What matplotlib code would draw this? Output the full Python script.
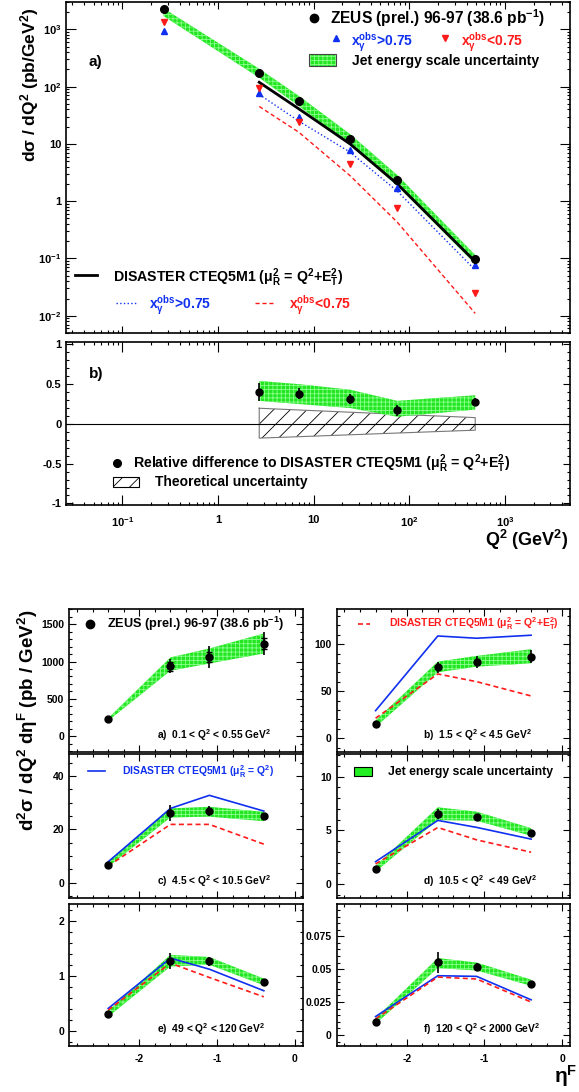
import numpy as np
import matplotlib
matplotlib.use('Agg')
import matplotlib.pyplot as plt
from matplotlib.ticker import LogLocator, FuncFormatter, NullFormatter, MultipleLocator
from matplotlib.patches import Rectangle
from matplotlib.lines import Line2D

plt.rcParams['font.family'] = ['Liberation Sans', 'DejaVu Sans']
plt.rcParams['font.weight'] = 'bold'
plt.rcParams['mathtext.fontset'] = 'custom'
plt.rcParams['mathtext.rm'] = 'Liberation Sans:bold'
plt.rcParams['mathtext.it'] = 'Liberation Sans:bold'
plt.rcParams['mathtext.bf'] = 'Liberation Sans:bold'
plt.rcParams['mathtext.default'] = 'rm'
plt.rcParams['axes.unicode_minus'] = False
plt.rcParams['hatch.linewidth'] = 0.6

# ---- top figure: d sigma / dQ2 ----
q2 = [0.27, 2.7, 7.0, 24.0, 75.0, 490.0]
zeus_xs = [2250, 170, 55, 12.2, 2.3, 0.098]
zeus_jes_hi = [2320, 205, 69, 14.9, 2.86, 0.115]
zeus_jes_lo = [1700, 143, 46, 9.6, 1.86, 0.080]
xg_hi_pts = [950, 78, 29.6, 7.7, 1.7, 0.077]     # x_gamma^obs > 0.75
xg_lo_pts = [1320, 95, 24, 4.5, 0.75, 0.025]     # x_gamma^obs < 0.75
q2_nlo = [2.7, 7.0, 24.0, 75.0, 490.0]
dis_all = [119, 41, 10, 2.0, 0.088]
dis_xg_hi = [73, 25, 7.2, 1.5, 0.063]
dis_xg_lo = [45, 16, 2.8, 0.43, 0.011]

# relative difference panel
rel = [0.40, 0.38, 0.31, 0.17, 0.27]
rel_err = [0.11, 0.07, 0.06, 0.07, 0.05]
rel_jes_hi = [0.54, 0.50, 0.43, 0.29, 0.36]
rel_jes_lo = [0.29, 0.25, 0.20, 0.09, 0.18]
theo_hi = [0.197, 0.175, 0.147, 0.121, 0.079]
theo_lo = [-0.179, -0.161, -0.137, -0.115, -0.079]

# ---- bottom figure: d2 sigma / dQ2 d eta_F ----
eta = [-2.4, -1.6, -1.1, -0.4]
bins = ['a)  0.1 < Q$^2$ < 0.55 GeV$^2$', 'b)  1.5 < Q$^2$ < 4.5 GeV$^2$',
        'c)  4.5 < Q$^2$ < 10.5 GeV$^2$', 'd)  10.5 < Q$^2$  < 49 GeV$^2$',
        'e)  49 < Q$^2$ < 120 GeV$^2$', 'f)  120 < Q$^2$ < 2000 GeV$^2$']
xs = [[224, 938, 1063, 1242],
      [15.2, 75.5, 81.2, 86.8],
      [6.6, 26.3, 26.9, 25.0],
      [1.40, 6.54, 6.2, 4.77],
      [0.31, 1.27, 1.26, 0.88],
      [0.0099, 0.0553, 0.0518, 0.0389]]
xs_err = [[15, 90, 150, 160],
          [1.5, 6, 6, 7],
          [0.5, 3, 2, 1.2],
          [0.1, 0.45, 0.3, 0.25],
          [0.03, 0.15, 0.08, 0.05],
          [0.001, 0.008, 0.003, 0.002]]
xs_stat_a = [10, 60, 70, 80]
jes_hi = [[240, 1055, 1175, 1376],
          [19, 81.5, 87.6, 94.7],
          [7.9, 27.9, 28.5, 26.6],
          [1.68, 7.14, 6.73, 5.2],
          [0.37, 1.38, 1.34, 0.95],
          [0.0127, 0.0584, 0.055, 0.042]]
jes_lo = [[205, 876, 974, 1108],
          [12, 70.2, 76.2, 79.8],
          [6.0, 24.5, 24.8, 23.1],
          [1.15, 5.95, 5.89, 4.49],
          [0.26, 1.17, 1.20, 0.83],
          [0.0084, 0.0508, 0.049, 0.0373]]
nlo_q2 = [None,
          [29.4, 108.8, 106.4, 109.6],
          [7.9, 27.9, 32.8, 26.9],
          [2.08, 5.92, 5.27, 4.18],
          [0.41, 1.32, 1.12, 0.73],
          [0.0140, 0.045, 0.0445, 0.0267]]
nlo_q2et2 = [None,
             [21.3, 68.4, 60.2, 45],
             [6.3, 21.9, 21.9, 14.5],
             [1.87, 5.26, 4.11, 2.96],
             [0.38, 1.23, 0.97, 0.62],
             [0.0122, 0.044, 0.0425, 0.025]]
ylims = [(-214, 1705), (-14.6, 137.5), (-5.7, 48.3), (-1.3, 12.1), (-0.27, 2.3), (-0.0084, 0.0995)]
ymajor = [500, 50, 20, 5, 1, 0.025]
yminor = [100, 10, 5, 1, 0.2, 0.005]

GREEN = '#22e622'
GREEN_H = '#8cff8c'
BLUE = '#1030f0'
RED = '#ff1a1a'

W, H = 579, 1092
fig = plt.figure(figsize=(W / 100, H / 100), dpi=100)


def add_ax(l, t, r, b):
    return fig.add_axes([l / W, 1 - b / H, (r - l) / W, (b - t) / H])


def style(ax, size=7.5):
    ax.tick_params(which='both', direction='in', top=True, right=True, labelsize=size, width=0.8)
    ax.tick_params(which='major', length=5)
    ax.tick_params(which='minor', length=2.5)
    for s in ax.spines.values():
        s.set_linewidth(1.2)


def log_fmt(v, pos):
    e = int(round(np.log10(v)))
    if e == 0:
        return '1'
    if e == 1:
        return '10'
    return r'$10^{%d}$' % e


def green_band(ax, x, lo, hi):
    ax.fill_between(x, lo, hi, facecolor=GREEN, edgecolor=GREEN_H, hatch='++++', linewidth=0, zorder=1)


# ---------------- panel a (top) ----------------
axa = add_ax(66.4, 2, 570, 333)
axa.set_xscale('log')
axa.set_yscale('log')
axa.set_xlim(0.026, 4800)
axa.set_ylim(0.005, 3000)
green_band(axa, q2, zeus_jes_lo, zeus_jes_hi)
axa.plot(q2_nlo, dis_all, color='k', lw=2, zorder=3)
axa.plot(q2_nlo, dis_xg_hi, color=BLUE, lw=1, ls=':', zorder=3)
axa.plot(q2_nlo, dis_xg_lo, color=RED, lw=1, ls=(0, (3, 2)), zorder=3)
axa.plot(q2, xg_hi_pts, ls='none', marker='^', color=BLUE, ms=5, zorder=4)
axa.plot(q2, xg_lo_pts, ls='none', marker='v', color=RED, ms=5, zorder=4)
axa.plot(q2, zeus_xs, ls='none', marker='o', color='k', ms=5.5, zorder=5)
style(axa, 8)
for axis in (axa.xaxis, axa.yaxis):
    axis.set_major_locator(LogLocator(base=10))
    axis.set_minor_locator(LogLocator(base=10, subs=np.arange(2, 10)))
    axis.set_major_formatter(FuncFormatter(log_fmt))
    axis.set_minor_formatter(NullFormatter())
axa.tick_params(labelbottom=False)
axa.tick_params(which='major', axis='y', length=7)

T = axa.transAxes
axa.plot([0.491], [0.952], marker='o', color='k', ms=6, transform=T, clip_on=False)
axa.text(0.524, 0.934, 'ZEUS (prel.) 96-97 (38.6 pb$^{-1}$)', fontsize=11.2, transform=T, va='baseline')
axa.plot([0.535], [0.890], marker='^', color=BLUE, ms=5, transform=T)
axa.text(0.566, 0.869, r'x$^{obs}_{\gamma}$>0.75', color=BLUE, fontsize=10, transform=T, va='baseline')
axa.plot([0.752], [0.890], marker='v', color=RED, ms=5, transform=T)
axa.text(0.784, 0.869, r'x$^{obs}_{\gamma}$<0.75', color=RED, fontsize=10, transform=T, va='baseline')
axa.add_patch(Rectangle((0.482, 0.808), 0.053, 0.035, transform=T, facecolor=GREEN,
                        edgecolor=GREEN_H, hatch='++++', lw=0))
axa.add_patch(Rectangle((0.482, 0.808), 0.053, 0.035, transform=T, fill=False, edgecolor='#444444', lw=0.8))
axa.text(0.568, 0.810, 'Jet energy scale uncertainty', fontsize=10, transform=T, va='baseline')
axa.text(0.044, 0.807, 'a)', fontsize=11, transform=T, va='baseline')
axa.add_line(Line2D([0.018, 0.060], [0.174, 0.174], color='k', lw=2, transform=T))
axa.text(0.092, 0.155, r'DISASTER CTEQ5M1 ($\mu^2_R$ = Q$^2$+E$^2_T$)', fontsize=10.2, transform=T, va='baseline')
axa.add_line(Line2D([0.099, 0.139], [0.0915, 0.0915], color=BLUE, lw=1, ls=':', transform=T))
axa.text(0.165, 0.0746, r'x$^{obs}_{\gamma}$>0.75', color=BLUE, fontsize=10, transform=T, va='baseline')
axa.add_line(Line2D([0.374, 0.410], [0.0915, 0.0915], color=RED, lw=1, ls=(0, (3, 2)), transform=T))
axa.text(0.443, 0.0746, r'x$^{obs}_{\gamma}$<0.75', color=RED, fontsize=10, transform=T, va='baseline')

# ---------------- panel b (top) ----------------
axb = add_ax(66.4, 342, 570, 505)
axb.set_xscale('log')
axb.set_xlim(0.026, 4800)
axb.set_ylim(-1.02, 1.03)
axb.fill_between(q2_nlo, theo_lo, theo_hi, facecolor='white', edgecolor='k', hatch='//', linewidth=0, zorder=1)
axb.plot(q2_nlo + q2_nlo[::-1] + q2_nlo[:1], theo_hi + theo_lo[::-1] + theo_hi[:1], color='#777777', lw=0.8, zorder=1)
green_band(axb, q2_nlo, rel_jes_lo, rel_jes_hi)
axb.axhline(0, color='k', lw=0.8, zorder=2)
axb.errorbar(q2_nlo, rel, yerr=rel_err, fmt='o', color='k', ms=5, elinewidth=1.2, capsize=0, zorder=5)
style(axb, 8)
axb.xaxis.set_major_locator(LogLocator(base=10))
axb.xaxis.set_minor_locator(LogLocator(base=10, subs=np.arange(2, 10)))
axb.xaxis.set_major_formatter(FuncFormatter(log_fmt))
axb.xaxis.set_minor_formatter(NullFormatter())
axb.yaxis.set_major_locator(MultipleLocator(0.5))
axb.yaxis.set_minor_locator(MultipleLocator(0.1))
axb.yaxis.set_major_formatter(FuncFormatter(lambda v, p: '%g' % v))
axb.tick_params(axis='x', which='major', length=7, pad=7)

T = axb.transAxes
axb.text(0.044, 0.780, 'b)', fontsize=11, transform=T, va='baseline')
axb.plot([0.101], [0.259], marker='o', color='k', ms=5.5, transform=T)
axb.text(0.132, 0.225, r'Relative difference to DISASTER CTEQ5M1 ($\mu^2_R$ = Q$^2$+E$^2_T$)',
         fontsize=10.2, transform=T, va='baseline')
axb.add_patch(Rectangle((0.0916, 0.108), 0.053, 0.065, transform=T, facecolor='white',
                        edgecolor='k', hatch='//', lw=0.8))
axb.text(0.176, 0.116, 'Theoretical uncertainty', fontsize=10, transform=T, va='baseline')

fig.text(29.5 / W, 1 - 8 / H, r'd$\sigma$ / dQ$^2$ (pb/GeV$^2$)', rotation=90,
         ha='center', va='top', fontsize=12.5)
fig.text(568 / W, 1 - 546 / H, 'Q$^2$ (GeV$^2$)', ha='right', va='baseline', fontsize=13)

# ---------------- bottom 3x2 grid ----------------
cols = [(69.3, 302.7), (336.7, 570)]
rows = [(609, 752), (754, 898), (904, 1046)]
axes = []
for i in range(6):
    r, c = divmod(i, 2)
    l, rr = cols[c]
    t, b = rows[r]
    ax = add_ax(l, t, rr, b)
    ax.set_xlim(-2.9, 0.1)
    ax.set_ylim(*ylims[i])
    green_band(ax, eta, jes_lo[i], jes_hi[i])
    if nlo_q2[i] is not None:
        ax.plot(eta, nlo_q2[i], color=BLUE, lw=1.2, zorder=3)
        ax.plot(eta, nlo_q2et2[i], color=RED, lw=1.2, ls=(0, (3, 2)), zorder=3)
    ax.errorbar(eta, xs[i], yerr=xs_err[i], fmt='o', color='k', ms=5, elinewidth=1.2, capsize=0, zorder=5)
    if i == 0:
        ax.errorbar(eta, xs[i], yerr=xs_stat_a, fmt='none', ecolor='k', elinewidth=1,
                    capsize=2.5, capthick=1, zorder=5)
    style(ax, 7.5)
    ax.xaxis.set_major_locator(MultipleLocator(1))
    ax.xaxis.set_minor_locator(MultipleLocator(0.2))
    ax.yaxis.set_major_locator(MultipleLocator(ymajor[i]))
    ax.yaxis.set_minor_locator(MultipleLocator(yminor[i]))
    ax.yaxis.set_major_formatter(FuncFormatter(lambda v, p: '%g' % v))
    ax.xaxis.set_major_formatter(FuncFormatter(lambda v, p: '%g' % v))
    if r < 2:
        ax.tick_params(labelbottom=False)
    else:
        ax.tick_params(axis='x', pad=6)
    ax.text(0.374 if c == 0 else 0.371, 0.092, bins[i], fontsize=7.4, transform=ax.transAxes, va='baseline')
    axes.append(ax)

T = axes[0].transAxes
axes[0].plot([0.0887], [0.893], marker='o', color='k', ms=6, transform=T)
axes[0].text(0.163, 0.865, 'ZEUS (prel.) 96-97 (38.6 pb$^{-1}$)', fontsize=9.2, transform=T, va='baseline')
T = axes[1].transAxes
axes[1].add_line(Line2D([0.0926, 0.143], [0.895, 0.895], color=RED, lw=1.2, ls=(0, (3, 2)), transform=T))
axes[1].text(0.225, 0.872, r'DISASTER CTEQ5M1 ($\mu^2_R$ = Q$^2$+E$^2_T$)', color=RED, fontsize=7.5,
             transform=T, va='baseline')
T = axes[2].transAxes
axes[2].add_line(Line2D([0.0814, 0.153], [0.882, 0.882], color=BLUE, lw=1.2, transform=T))
axes[2].text(0.224, 0.854, r'DISASTER CTEQ5M1 ($\mu^2_R$ = Q$^2$)', color=BLUE, fontsize=7.5,
             transform=T, va='baseline')
T = axes[3].transAxes
axes[3].add_patch(Rectangle((0.0754, 0.847), 0.075, 0.061, transform=T, facecolor='#22ee22',
                            edgecolor='k', lw=0.8))
axes[3].text(0.221, 0.854, 'Jet energy scale uncertainty', fontsize=8.8, transform=T, va='baseline')

fig.text(28 / W, 1 - 610 / H, r'd$^2\sigma$ / dQ$^2$ d$\eta^F$ (pb / GeV$^2$)', rotation=90,
         ha='center', va='top', fontsize=13.5)
fig.text(577 / W, 1 - 1083 / H, r'$\eta^F$', ha='right', va='baseline', fontsize=15, fontweight='normal')

fig.savefig('out.png', dpi=100)
